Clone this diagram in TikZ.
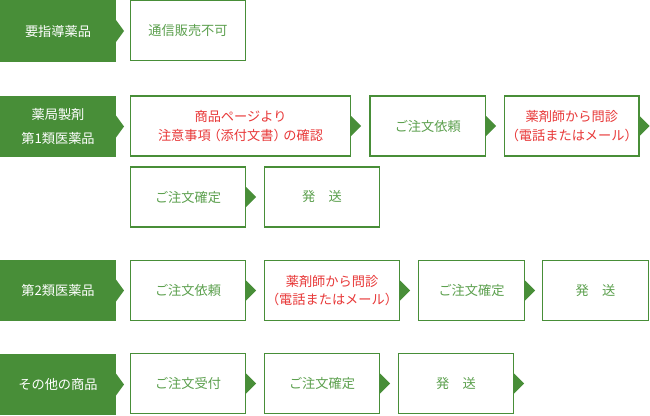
\documentclass[tikz,border=0pt]{standalone}
\usepackage{fontspec}
\setmainfont{Noto Sans CJK JP}
\definecolor{lblgreen}{RGB}{72,142,56}
\definecolor{framegreen}{RGB}{72,142,56}
\definecolor{gtxt}{RGB}{92,160,78}
\definecolor{rtxt}{RGB}{232,56,56}
\tikzset{
  lbl/.style={fill=lblgreen, text=white, anchor=north west, minimum width=116, minimum height=61, inner sep=0pt, outer sep=0pt, align=center, font=\fontsize{13.2}{24}\selectfont},
  stepbox/.style={draw=framegreen, line width=1.2pt, fill=white, anchor=north west, minimum height=60, inner sep=0pt, outer sep=0pt, align=center, text=gtxt, font=\fontsize{13.2}{18.5}\selectfont},
  redtxt/.style={text=rtxt},
}
\newcommand{\lblarrow}[1]{\fill[lblgreen] (#1.east) ++(0,-11) -- ++(8,11) -- ++(-8,11) -- cycle;}
\newcommand{\boxarrow}[1]{\fill[framegreen] ([xshift=0.6pt]#1.east) ++(0,-10) -- ++(10,10) -- ++(-10,10) -- cycle;}
\begin{document}
\begin{tikzpicture}[x=1pt,y=-1pt]
\useasboundingbox (0,0) rectangle (650,415);
% Row 1
\node[lbl, minimum height=62] (l1) at (0,0) {要指導薬品};
\node[stepbox, minimum width=115] (a1) at (130.5,0.7) {通信販売不可};
\lblarrow{l1}
% Row 2
\node[lbl] (l2) at (0,96) {薬局製剤\\第1類医薬品};
\node[stepbox, redtxt, minimum width=220] (b1) at (130.5,96) {商品ページより\\注意事項\kern-0.25em（添付文書）\kern-0.25em の確認};
\node[stepbox, minimum width=115.5] (b2) at (370,96) {ご注文依頼};
\node[stepbox, redtxt, minimum width=134.5] (b3) at (504.5,96) {薬剤師から問診\\（電話またはメール）};
\lblarrow{l2}
\boxarrow{b1}
\boxarrow{b2}
\boxarrow{b3}
% Row 2b
\node[stepbox, minimum width=115] (c1) at (130.5,167) {ご注文確定};
\node[stepbox, minimum width=115] (c2) at (264.5,167) {発\hspace{1em}送};
\boxarrow{c1}
% Row 3
\node[lbl] (l3) at (0,260) {第2類医薬品};
\node[stepbox, minimum width=115] (d1) at (130.5,260.5) {ご注文依頼};
\node[stepbox, redtxt, minimum width=135] (d2) at (264.5,260.5) {薬剤師から問診\\（電話またはメール）};
\node[stepbox, minimum width=106] (d3) at (418.5,260.5) {ご注文確定};
\node[stepbox, minimum width=106] (d4) at (542.5,260.5) {発\hspace{1em}送};
\lblarrow{l3}
\boxarrow{d1}
\boxarrow{d2}
\boxarrow{d3}
% Row 4
\node[lbl] (l4) at (0,354) {その他の商品};
\node[stepbox, minimum width=115] (e1) at (130.5,353.5) {ご注文受付};
\node[stepbox, minimum width=115] (e2) at (264.5,353.5) {ご注文確定};
\node[stepbox, minimum width=115] (e3) at (398.5,353.5) {発\hspace{1em}送};
\lblarrow{l4}
\boxarrow{e1}
\boxarrow{e2}
\boxarrow{e3}
\end{tikzpicture}
\end{document}
